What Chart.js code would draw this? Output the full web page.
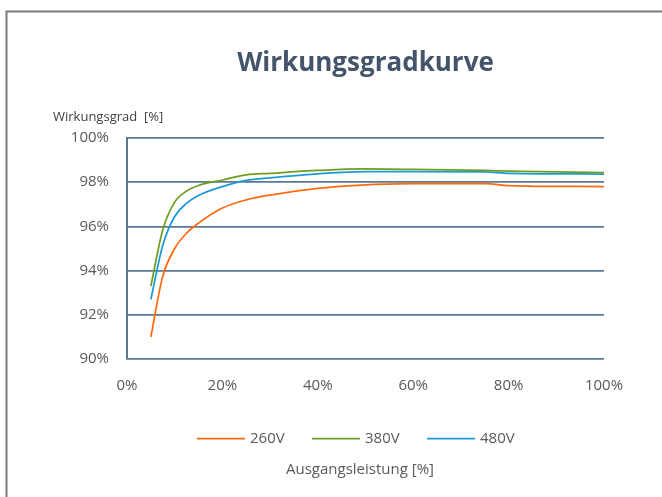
<!DOCTYPE html>
<html>
<head>
<meta charset="utf-8">
<script src="https://cdn.jsdelivr.net/npm/chart.js@4/dist/chart.umd.min.js"></script>
<style>
  html, body { margin: 0; padding: 0; background: #fff; }
  #wrap { position: relative; width: 662px; height: 497px; }
</style>
</head>
<body>
<div id="wrap"><canvas id="effChart"></canvas></div>
<script>
// Ausgangsleistung [%]
const loadPct = [5, 7.5, 10, 12.5, 15, 20, 25, 30, 40, 50, 60, 75, 80, 100];
// Wirkungsgrad [%] je Eingangsspannung
const eff260 = [91.0, 93.75, 95.0, 95.7, 96.15, 96.83, 97.2, 97.42, 97.72, 97.88, 97.93, 97.94, 97.85, 97.8];
const eff380 = [93.3, 95.85, 97.1, 97.6, 97.85, 98.1, 98.33, 98.4, 98.53, 98.6, 98.58, 98.53, 98.5, 98.43];
const eff480 = [92.7, 95.15, 96.45, 97.05, 97.4, 97.8, 98.08, 98.2, 98.38, 98.48, 98.48, 98.47, 98.4, 98.37];
const seriesNames = ["260V", "380V", "480V"];
const seriesColors = ["#FF6A10", "#6E9E1E", "#1E9AD6"];

const FONT = "'Open Sans', 'Noto Sans', sans-serif";
const GRID = "#5B7792";

function toPoints(ys) {
  return loadPct.map((x, i) => ({ x: x, y: ys[i] }));
}

// Rahmen, Titel, Legende und Achsentitel selbst zeichnen
const decor = {
  id: "decor",
  beforeDraw(chart) {
    const ctx = chart.ctx;
    ctx.save();
    ctx.strokeStyle = "#767C82";
    ctx.lineWidth = 2;
    ctx.beginPath();
    ctx.moveTo(6.5, 520);
    ctx.lineTo(6.5, 11.5);
    ctx.lineTo(700, 11.5);
    ctx.stroke();
    ctx.restore();
  },
  afterDraw(chart) {
    const ctx = chart.ctx;
    const area = chart.chartArea;
    const cx = (area.left + area.right) / 2;
    ctx.save();
    ctx.textBaseline = "middle";

    ctx.fillStyle = "#44546A";
    ctx.font = "bold 26px " + FONT;
    ctx.textAlign = "center";
    ctx.fillText("Wirkungsgradkurve", cx, 64);

    ctx.fillStyle = "#404040";
    ctx.font = "13px " + FONT;
    ctx.textAlign = "left";
    ctx.fillText("Wirkungsgrad  [%]", 53, 117);

    // Legende
    ctx.font = "15px " + FONT;
    const step = 115;
    let x = 197;
    chart.data.datasets.forEach((ds) => {
      ctx.strokeStyle = ds.borderColor;
      ctx.lineWidth = 1.75;
      ctx.beginPath();
      ctx.moveTo(x, 438.5);
      ctx.lineTo(x + 48, 438.5);
      ctx.stroke();
      ctx.fillStyle = "#595959";
      ctx.fillText(ds.label, x + 53, 439);
      x += step;
    });

    ctx.textAlign = "center";
    ctx.fillStyle = "#595959";
    ctx.fillText("Ausgangsleistung [%]", 360, 470);
    ctx.restore();
  },
};

const canvas = document.getElementById("effChart");
const chart = new Chart(canvas.getContext("2d"), {
  type: "line",
  data: {
    datasets: [
      { label: seriesNames[0], data: toPoints(eff260), borderColor: seriesColors[0] },
      { label: seriesNames[1], data: toPoints(eff380), borderColor: seriesColors[1] },
      { label: seriesNames[2], data: toPoints(eff480), borderColor: seriesColors[2] },
    ].map((d) => Object.assign(d, {
      borderWidth: 1.75,
      pointRadius: 0,
      fill: false,
      cubicInterpolationMode: "monotone",
    })),
  },
  options: {
    responsive: true,
    maintainAspectRatio: false,
    animation: false,
    layout: { padding: { top: 138, right: 58, bottom: 98, left: 0 } },
    plugins: {
      legend: { display: false },
      title: { display: false },
      tooltip: { enabled: false },
    },
    scales: {
      x: {
        type: "linear",
        min: 0,
        max: 100,
        grid: { display: false },
        border: { display: false },
        afterFit: (s) => { s.height = 40; },
        ticks: {
          stepSize: 20,
          padding: 10,
          color: "#595959",
          font: { family: FONT, size: 15 },
          maxRotation: 0,
          callback: (v) => v + "%",
        },
      },
      y: {
        min: 90,
        max: 100,
        grid: { color: GRID, lineWidth: 1.75, drawTicks: false },
        border: { display: true, color: GRID, width: 2 },
        afterFit: (s) => { s.width = 127; },
        ticks: {
          stepSize: 2,
          padding: 18,
          color: "#595959",
          font: { family: FONT, size: 15 },
          callback: (v) => v + "%",
        },
      },
    },
  },
  plugins: [decor],
});
</script>
</body>
</html>
